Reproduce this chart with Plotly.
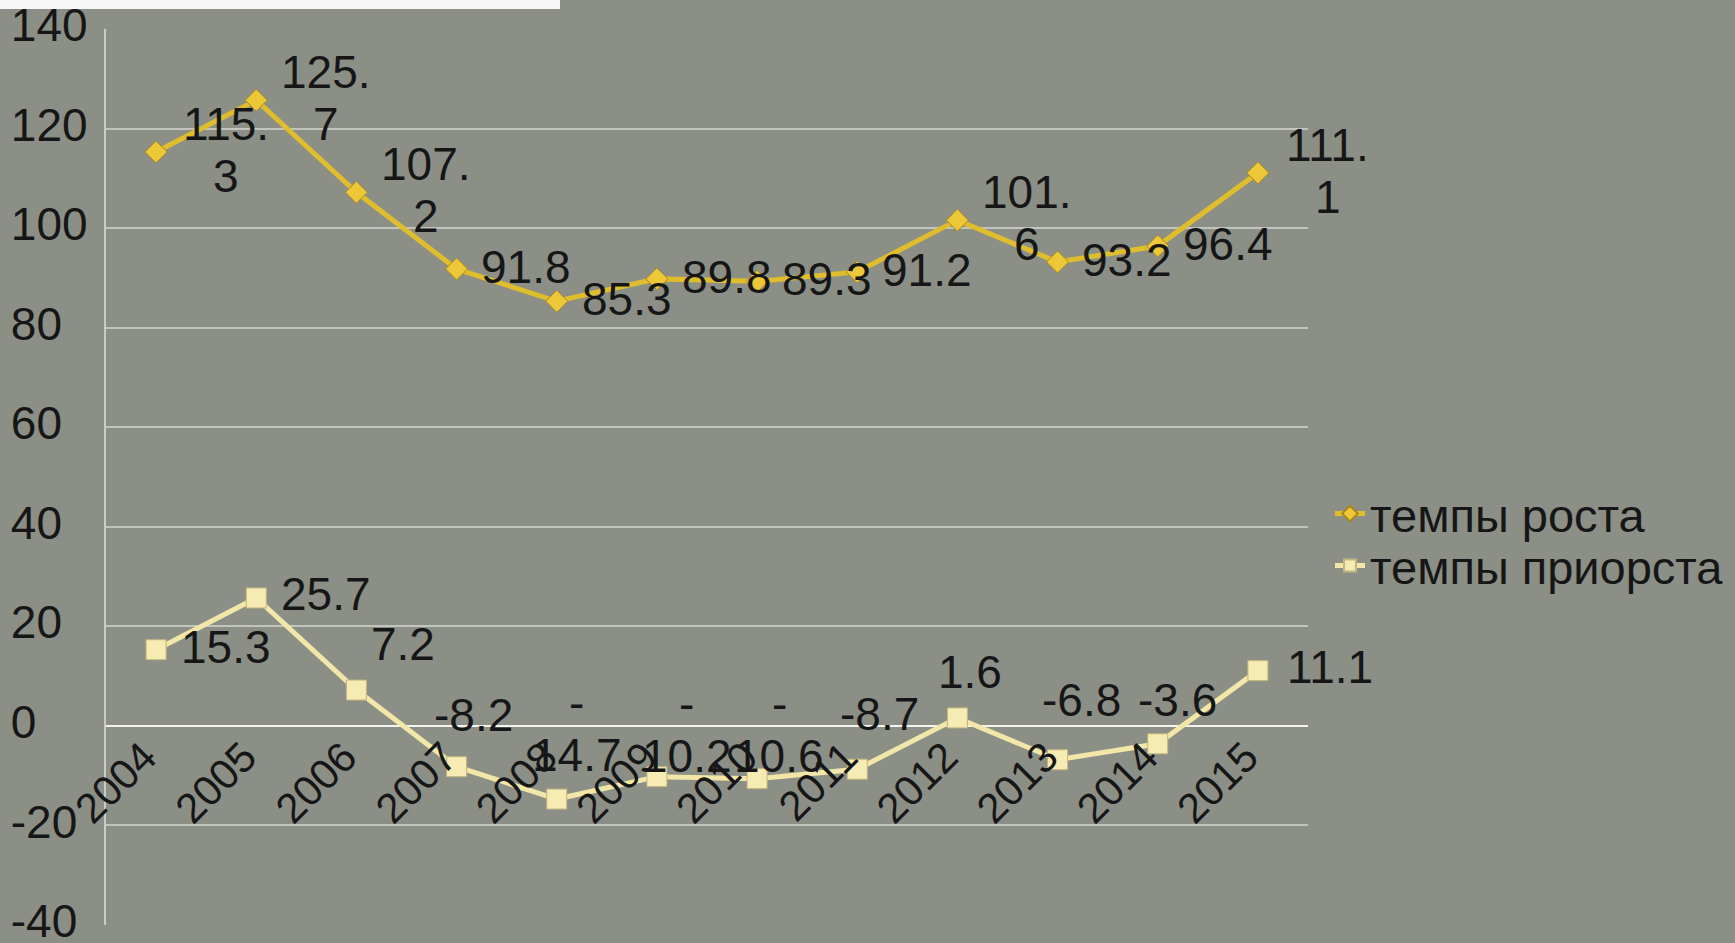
import plotly.graph_objects as go

# ---- data ----
years = ["2004", "2005", "2006", "2007", "2008", "2009", "2010", "2011", "2012", "2013", "2014", "2015"]
growth = [115.3, 125.7, 107.2, 91.8, 85.3, 89.8, 89.3, 91.2, 101.6, 93.2, 96.4, 111.1]
increment = [15.3, 25.7, 7.2, -8.2, -14.7, -10.2, -10.6, -8.7, 1.6, -6.8, -3.6, 11.1]
name_growth = "темпы роста"
name_increment = "темпы приорста"
y_ticks = [-40, -20, 0, 20, 40, 60, 80, 100, 120, 140]

# ---- style ----
W, H = 1735, 943
ML, MR, MT, MB = 106, 427, 29, 18
BG = "#8b8f86"
FONT = "Liberation Sans, Arial, sans-serif"
TXT = "#161616"
LABEL_SIZE = 46
LINE_STEP = 52  # px between wrapped label lines

# label placement (style): anchor, xshift px, yshift px
pos_growth = [("left", 25, 2)] * 12
pos_increment = [("left", 25, 3), ("left", 25, 4), ("left", 15, 46), ("center", 17, 52),
                 ("center", 20, 70), ("center", 30, 47), ("center", 22, 49), ("center", 22, 55),
                 ("center", 13, 46), ("center", 24, 60), ("center", 20, 44), ("left", 27, 4)]

CHAR_W = {".": 0.278, "-": 0.333}


def text_width(s):
    return sum(CHAR_W.get(c, 0.556) for c in s) * LABEL_SIZE


def wrap(v):
    s = f"{v}"
    if len(s) > 4:
        if s.startswith("-"):
            return ["-", s[1:]]
        return [s[:4], s[4:]]
    return [s]


fig = go.Figure()
fig.add_trace(go.Scatter(
    x=years, y=growth, name=name_growth, mode="lines+markers", legend="legend",
    line=dict(color="#e0bd2c", width=5),
    marker=dict(symbol="diamond", size=17, color="#ecc839", line=dict(color="#a8871c", width=1)),
))
fig.add_trace(go.Scatter(
    x=years, y=increment, name=name_increment, mode="lines+markers", legend="legend2",
    line=dict(color="#f2e7a8", width=5),
    marker=dict(symbol="square", size=20, color="#f6ebb2", line=dict(color="#c4b57e", width=1)),
))

annotations = []
for series, poss in ((growth, pos_growth), (increment, pos_increment)):
    for i, (v, (anc, dx, dy)) in enumerate(zip(series, poss)):
        lines = wrap(v)
        block_w = max(text_width(t) for t in lines)
        cx = dx + block_w / 2 if anc == "left" else dx
        n = len(lines)
        for k, t in enumerate(lines):
            annotations.append(dict(
                x=i, y=v, xref="x", yref="y", text=t, showarrow=False,
                xanchor="center", yanchor="middle",
                xshift=cx, yshift=dy + (n - 1) / 2 * LINE_STEP - k * LINE_STEP,
                font=dict(size=LABEL_SIZE, color=TXT, family=FONT),
            ))

ymin, ymax = y_ticks[0], y_ticks[-1]
pw = W - ML - MR
ph = H - MT - MB

leg_common = dict(
    x=(1330 - ML) / pw, xanchor="left", yanchor="middle",
    font=dict(size=47, color=TXT, family=FONT), bgcolor="rgba(0,0,0,0)",
    itemsizing="constant",
)

fig.update_layout(
    width=W, height=H, autosize=False,
    margin=dict(l=ML, r=MR, t=MT, b=MB, pad=0, autoexpand=False),
    paper_bgcolor=BG, plot_bgcolor=BG,
    font=dict(family=FONT, color=TXT),
    showlegend=True,
    legend=dict(leg_common, y=1 - (514 - MT) / ph),
    legend2=dict(leg_common, y=1 - (566 - MT) / ph),
    xaxis=dict(
        type="category", range=[-0.5, len(years) - 0.5], automargin=False,
        anchor="free", position=(0 - ymin) / (ymax - ymin),
        showgrid=False, zeroline=False, showline=False, ticks="",
        tickangle=-45, tickfont=dict(size=42, color=TXT, family=FONT),
        ticklabelshift=-12, ticklabelstandoff=-3,
    ),
    yaxis=dict(
        range=[ymin, ymax], tickvals=y_ticks, ticktext=[str(v) for v in y_ticks],
        automargin=False,
        showgrid=True, gridcolor="#c2c5bd", gridwidth=2,
        zeroline=True, zerolinecolor="#f4f4f2", zerolinewidth=2,
        showline=True, linecolor="#c9cbc5", linewidth=2, ticks="",
        ticklabelposition="inside", ticklabelstandoff=-89, ticklabeloverflow="allow",
        ticklabelshift=-4,
        tickfont=dict(size=46, color=TXT, family=FONT),
    ),
    annotations=annotations,
    shapes=[dict(
        type="rect", xref="paper", yref="paper",
        x0=(0 - ML) / pw, x1=(560 - ML) / pw,
        y0=1 - (9 - MT) / ph, y1=1 - (0 - MT) / ph,
        fillcolor="#f7f7f7", line=dict(width=0), layer="above",
    )],
)

fig.write_html("out.html", config={"displayModeBar": False},
               post_script="document.body.style.margin='0';")
